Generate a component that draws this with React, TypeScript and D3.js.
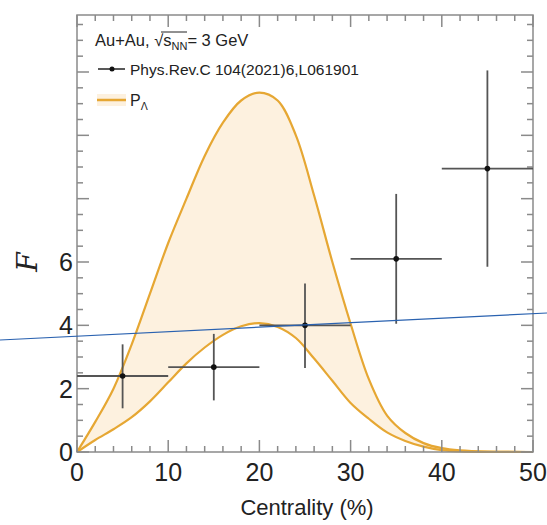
import React from "react";
import * as d3 from "d3";

const W = 547;
const H = 525;

// Data points (Phys.Rev.C 104(2021)6,L061901)
const centX = [5, 15, 25, 35, 45];
const centErr = [5, 5, 5, 5, 5];
const fVal = [2.4, 2.68, 4.0, 6.1, 8.95];
const fErrLo = [1.02, 1.05, 1.35, 2.05, 3.1];
const fErrHi = [1.0, 1.05, 1.32, 2.05, 3.1];

// P_Lambda band (upper and lower edges)
const bandX = [0, 2, 4, 6, 8, 10, 12, 14, 16, 18, 20, 22, 24, 26, 28, 30, 32, 34, 36, 38, 40, 42, 45, 50];
const bandUpper = [0, 0.95, 2.0, 3.4, 5.0, 6.6, 8.0, 9.35, 10.4, 11.1, 11.35, 11.1, 10.0, 8.1, 6.0, 4.05, 2.3, 1.15, 0.6, 0.28, 0.12, 0.05, 0.01, 0];
const bandLower = [0, 0.38, 0.72, 1.1, 1.6, 2.2, 2.8, 3.3, 3.7, 3.97, 4.07, 3.95, 3.6, 2.95, 2.25, 1.55, 1.05, 0.62, 0.35, 0.17, 0.06, 0.02, 0.005, 0];

const xTickLabels = [0, 10, 20, 30, 40, 50];
const yTickLabels = [0, 2, 4, 6];

const FONT = "'Liberation Sans', Arial, Helvetica, sans-serif";
const ORANGE = "#e6a733";
const FILL = "#fdf1df";
const FRAME = "#8a8a8a";

export default function App() {
  const x = d3.scaleLinear().domain([0, 50]).range([77, 533]);
  const y = d3.scaleLinear().domain([0, 13.8]).range([452, 15]);
  const [x0, x1] = x.range();
  const [yb, yt] = y.range();

  const band = bandX.map((v, i) => ({ x: v, lo: bandLower[i], hi: bandUpper[i] }));
  const curve = d3.curveCatmullRom.alpha(0.5);
  const area = d3
    .area<any>()
    .x((d) => x(d.x))
    .y0((d) => y(d.lo))
    .y1((d) => y(d.hi))
    .curve(curve);
  const upLine = d3
    .line<any>()
    .x((d) => x(d.x))
    .y((d) => y(d.hi))
    .curve(curve);
  const loLine = d3
    .line<any>()
    .x((d) => x(d.x))
    .y((d) => y(d.lo))
    .curve(curve);

  const xMinor = d3.range(0, 50.01, 2);
  const xMajor = d3.range(0, 50.01, 10);
  const yMinor = d3.range(0, 13.8, 0.5);
  const yMajor = d3.range(0, 13.8, 2);

  return (
    <svg
      width={W}
      height={H}
      style={{ position: "absolute", left: 0, top: 0, background: "#fff" }}
      fontFamily={FONT}
    >
      <rect x={0} y={0} width={W} height={H} fill="#fff" />
      {/* band */}
      <path d={area(band) || ""} fill={FILL} stroke="none" />
      <path d={upLine(band) || ""} fill="none" stroke={ORANGE} strokeWidth={2.2} />
      <path d={loLine(band) || ""} fill="none" stroke={ORANGE} strokeWidth={2.2} />

      {/* frame */}
      <rect x={x0} y={yt} width={x1 - x0} height={yb - yt} fill="none" stroke={FRAME} strokeWidth={1.5} />
      {/* x ticks bottom & top */}
      {xMinor.map((v) => {
        const major = xMajor.includes(v);
        const len = major ? 12 : 6;
        return (
          <g key={"xt" + v}>
            <line x1={x(v)} x2={x(v)} y1={yb} y2={yb - len} stroke={FRAME} strokeWidth={1.5} />
            <line x1={x(v)} x2={x(v)} y1={yt} y2={yt + len} stroke={FRAME} strokeWidth={1.5} />
          </g>
        );
      })}
      {/* y ticks left & right */}
      {yMinor.map((v) => {
        const major = yMajor.includes(v);
        const len = major ? 12 : 6;
        return (
          <g key={"yt" + v}>
            <line x1={x0} x2={x0 + len} y1={y(v)} y2={y(v)} stroke={FRAME} strokeWidth={1.5} />
            <line x1={x1} x2={x1 - len} y1={y(v)} y2={y(v)} stroke={FRAME} strokeWidth={1.5} />
          </g>
        );
      })}

      {/* data points with error bars */}
      {centX.map((cx, i) => (
        <g key={"pt" + i} stroke="#555" strokeWidth={1.8}>
          <line x1={x(cx - centErr[i])} x2={x(cx + centErr[i])} y1={y(fVal[i])} y2={y(fVal[i])} />
          <line x1={x(cx)} x2={x(cx)} y1={y(fVal[i] - fErrLo[i])} y2={y(fVal[i] + fErrHi[i])} />
          <circle cx={x(cx)} cy={y(fVal[i])} r={2.8} fill="#111" stroke="none" />
        </g>
      ))}

      {/* tick labels */}
      {xTickLabels.map((v) => (
        <text key={"xl" + v} x={x(v)} y={481} fontSize={25} textAnchor="middle" fill="#222">
          {v}
        </text>
      ))}
      {yTickLabels.map((v) => (
        <text key={"yl" + v} x={73} y={y(v) + 9} fontSize={25} textAnchor="end" fill="#222">
          {v}
        </text>
      ))}

      {/* axis titles */}
      <text x={307} y={515} fontSize={22} textAnchor="middle" fill="#222">
        Centrality (%)
      </text>
      <text
        transform={`translate(37,${262}) rotate(-90)`}
        fontSize={28}
        fontStyle="italic"
        fontFamily="'DejaVu Serif', 'Liberation Serif', serif"
        textAnchor="middle"
        fill="#222"
      >
        F
      </text>

      {/* legend */}
      <text x={95} y={46} fontSize={16.5} fill="#222">
        <tspan>Au+Au, </tspan>
        <tspan>√</tspan>
        <tspan>s</tspan>
        <tspan fontSize={11} dy={4}>NN</tspan>
        <tspan dy={-4}>= 3 GeV</tspan>
      </text>
      <line x1={161} x2={187} y1={32} y2={32} stroke="#222" strokeWidth={1} />
      <line x1={98} x2={125} y1={69} y2={69} stroke="#222" strokeWidth={1.5} />
      <circle cx={112} cy={69} r={2.5} fill="#111" />
      <text x={130} y={75} fontSize={15.5} fill="#222">
        Phys.Rev.C 104(2021)6,L061901
      </text>
      <rect x={97} y={94} width={29} height={12} fill={FILL} />
      <line x1={97} x2={126} y1={100} y2={100} stroke={ORANGE} strokeWidth={2.5} />
      <text x={130} y={106} fontSize={16} fill="#222">
        <tspan>P</tspan>
        <tspan fontSize={10.5} dy={4}>Λ</tspan>
      </text>

      {/* stray annotation line present in the reference image */}
      <line x1={0} y1={340} x2={W} y2={313} stroke="#2a62b0" strokeWidth={1.2} />
    </svg>
  );
}
